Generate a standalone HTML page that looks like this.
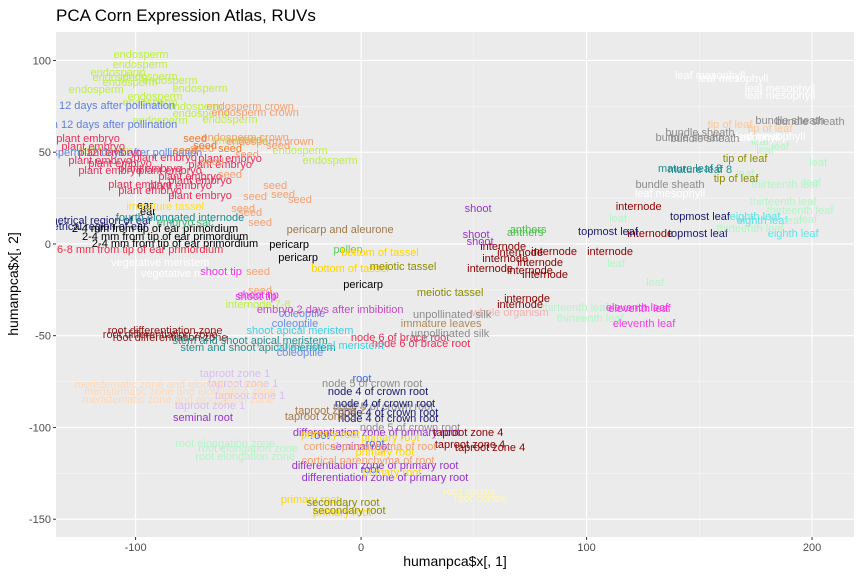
<!DOCTYPE html>
<html><head><meta charset="utf-8">
<style>
html,body{margin:0;padding:0;background:#fff;}
svg text{font-family:"Liberation Sans",sans-serif;}
</style></head>
<body>
<svg id="chart" width="862" height="575" viewBox="0 0 862 575" xmlns="http://www.w3.org/2000/svg">
<text x="56" y="21" font-size="17" fill="#000">PCA Corn Expression Atlas, RUVs</text>
<rect x="56" y="32" width="798" height="505" fill="#EBEBEB"/>
<g id="grid"></g>
<g id="labels"></g>
<g id="axes"></g>
<text x="455" y="566" font-size="14" text-anchor="middle" fill="#000">humanpca$x[, 1]</text>
<text transform="translate(18,284) rotate(-90)" font-size="14" text-anchor="middle" fill="#000">humanpca$x[, 2]</text>
</svg>
<script>
const xTicks = [-100, 0, 100, 200];
const yTicks = [-150, -100, -50, 0, 50, 100];
const tissueNames = ["endosperm","endosperm 12 days after pollination","endosperm crown","plant embryo","seed","seed","symmetrical region of ear","2-4 mm from tip of ear primordium","6-8 mm from tip of ear primordium","ear","pericarp and aleurone","pollen","pericarp","vegetative meristem","shoot tip","bottom of tassel","meiotic tassel","shoot","anthers","internode","topmost leaf","eighth leaf","leaf","thirteenth leaf","eleventh leaf","whole organism","leaf mesophyll","bundle sheath","tip of leaf","tip of leaf","mature leaf 8","root differentiation zone","stem and shoot apical meristem","coleoptile","node 6 of brace root","immature leaves","unpollinated silk","internode 7-8","shoot apical meristem","embryo 2 days after imbibition","taproot zone 1","meristematic zone and elongation zone","seminal root","root elongation zone","root","node 5 of crown root","node 4 of crown root","taproot zone 2","differentiation zone of primary root","taproot zone 4","primary root","secondary root","root cortex","cortical parenchyma of root","immature tassel","fourth elongated internode","embryo sac"];
const tissueColors = ["#BFEF45","#5F7FE0","#F4A070","#E6305A","#F4A070","#F07A28","#191970","#000000","#E8304A","#000000","#A0784A","#5DCC5D","#000000","#FFFFFF","#EE33EE","#FFD700","#8B8B00","#9932CC","#4DBF4D","#8B0000","#191970","#5AE6E6","#B4F5C8","#B4F5C8","#F03CE6","#F4B0B0","#FFFFFF","#8C8C8C","#F8C89A","#8B8B00","#1E8C8C","#8B1A1A","#2E8B8B","#6A8CE6","#E6305A","#B08850","#8C8C8C","#BFEF45","#40D0E0","#C04CC0","#D8BFF0","#FFD8B8","#9932CC","#B4F5C8","#4169E1","#8C8C8C","#191970","#A57848","#9932CC","#8B0000","#FFD700","#8B8B00","#FFF8B0","#F4A070","#FFE033","#1F8A8A","#3CB878"];
const tissueX = [
[-97.6,-98.0,-107.8,-93.6,-106.9,-84.7,-102.4,-117.5,-91.4,-93.6,-73.6,-89.1,-71.4,-13.7,-27.1,-53.7,-58.1,-71.4,-113.5],
[-121.1,-120.2,-109.1],
[-49.2,-47.0,-51.4,-40.4],
[-121.1,-118.8,-111.3,-115.7,-106.9,-111.3,-93.6,-84.7,-75.8,-98.0,-93.6,-80.3,-71.4,-62.5,-58.1,-71.4,-86.9],
[-49.2,-70.5,-36.8,-66.1,-50.6,-58.1,-38.1,-47.0,-27.1,-34.6,-52.3,-49.2,-44.8,-45.7,-44.8],
[-73.6,-69.2,-58.1,-78.0],
[-120.2,-122.4],
[-91.4,-86.9,-82.5],
[-98.0],
[-95.8,-94.5],
[-9.3],
[-5.8],
[-31.9,-27.9,0.9],
[-89.1,-75.8],
[-62.1,-46.6,-45.7],
[-4.9,8.4],
[18.6,39.5],
[51.9,51.0,52.8],
[74.1,72.8],
[63.0,70.5,63.9,79.4,57.2,74.9,81.6,110.4,123.1,128.2,73.6,70.5,85.6],
[109.5,150.3,149.4],
[174.7,191.6,177.8],
[114.0,113.1,130.4,176.9,179.2,185.8,170.3,202.7,200.0,191.6,198.3],
[187.1,194.7,172.5,94.9,101.6,188.0],
[122.4,125.5,123.5],
[66.1],
[154.8,165.0,185.8,185.8,170.3,181.4,137.0],
[145.9,152.5,190.2,199.1,150.3,137.0],
[163.6,181.4],
[170.3,166.3],
[145.9,150.3],
[-86.9,-89.1,-84.7],
[-49.2,-45.7],
[-26.2,-27.1,-29.3],
[26.6,17.3],
[35.5],
[40.4,39.5],
[-45.7],
[-27.1,-13.7],
[-13.7],
[-55.9,-49.2,-67.0,-52.3],
[-84.7,-80.3,-81.2],
[-70.1,-0.4],
[-60.3,-50.1,-51.4],
[0.4,-18.2,4.0,6.2],
[4.9,9.8,21.7],
[7.5,10.6,12.0,12.0],
[-13.7,-18.2],
[6.7,6.2,10.6],
[47.5,48.3,57.2],
[-13.7,12.9,-22.6,-8.4,13.7,10.6],
[-8.0,-5.3],
[47.9,52.8],
[3.1,4.0],
[-86.9],
[-80.3],
[-78.0]
];
const tissueY = [
[103.5,98.1,93.7,91.6,91.0,89.4,88.3,84.5,80.7,77.4,75.2,67.6,85.0,45.8,51.2,56.7,68.1,71.4,51.2],
[75.7,65.4,50.1],
[75.2,71.9,58.3,56.1],
[57.8,53.4,50.1,45.8,44.1,40.3,41.4,40.3,37.1,32.7,29.4,32.2,34.9,43.6,46.9,26.7,47.4],
[57.2,52.3,54.0,45.2,49.0,38.1,32.2,26.2,24.5,27.2,19.6,17.4,12.0,-14.7,-25.1],
[57.8,54.0,52.3,51.2],
[13.1,9.8],
[8.7,4.4,0.5],
[-2.7],
[21.3,18.0],
[8.2],
[-2.7],
[0.0,-7.1,-21.8],
[-9.8,-15.8],
[-14.7,-28.3,-27.5],
[-13.1,-4.4],
[-12.0,-26.2],
[19.6,5.4,1.6],
[8.2,6.5],
[-1.1,-4.4,-7.6,-9.8,-13.1,-14.2,-16.3,-3.8,20.7,6.0,-29.4,-32.7,-3.8],
[7.1,15.3,6.0],
[15.3,6.0,13.1],
[14.2,-10.4,-20.7,56.1,51.2,53.4,38.7,44.7,33.8,13.1,13.6],
[23.4,18.5,8.7,-34.3,-40.3,32.7],
[-34.3,-43.1,-34.9],
[-37.1],
[92.1,90.5,85.0,81.2,58.3,58.9,27.8],
[58.3,57.8,67.6,67.0,61.0,32.7],
[65.4,63.2],
[46.9,36.0],
[41.4,40.8],
[-46.9,-49.0,-50.7],
[-52.3,-56.1],
[-37.6,-58.9,-43.1],
[-54.0,-50.7],
[-43.1],
[-38.1,-48.5],
[-32.7],
[-46.9,-55.0],
[-35.4],
[-70.3,-82.3,-87.7,-75.7],
[-76.3,-80.1,-84.5],
[-94.3,-110.1],
[-108.4,-111.2,-115.5],
[-73.0,-104.1,-122.6,-108.5],
[-75.7,-88.3,-99.7],
[-80.1,-86.6,-91.6,-94.8],
[-90.5,-93.7],
[-102.5,-120.4,-127.0],
[-102.5,-109.0,-110.7],
[-103.5,-105.2,-139.0,-146.0,-124.3,-113.0],
[-140.6,-145.0],
[-134.6,-138.4],
[-117.7,-110.1],
[20.7],
[14.7],
[12.0]
];

const NS = "http://www.w3.org/2000/svg";
const L = 56, R = 854, T = 32, B = 537;
const xMin = -135.3, xMax = 218.6, yMin = -159.7, yMax = 115.5;
function sx(v){ return L + (v - xMin) / (xMax - xMin) * (R - L); }
function sy(v){ return B - (v - yMin) / (yMax - yMin) * (B - T); }
function mk(tag, attrs){ const e = document.createElementNS(NS, tag); for (const k in attrs) e.setAttribute(k, attrs[k]); return e; }

const grid = document.getElementById('grid');
const axes = document.getElementById('axes');
// minor grid
for (let i = 0; i < xTicks.length; i++) {
  const mv = xTicks[i] - 50;
  if (mv > xMin) { const ln = mk('line', {x1:sx(mv), x2:sx(mv), y1:T, y2:B, stroke:'#F7F7F7', 'stroke-width':0.6});
    
    
    grid.appendChild(ln); }
}
if (xTicks[xTicks.length-1] + 50 < xMax) { const v = xTicks[xTicks.length-1] + 50; const ln = mk('line', {x1:sx(v), x2:sx(v), y1:T, y2:B, stroke:'#F7F7F7', 'stroke-width':0.6}); grid.appendChild(ln); }
for (let i = 0; i < yTicks.length; i++) {
  const mv = yTicks[i] + 25;
  if (mv < yMax) { const ln = mk('line', {x1:L, x2:R, y1:sy(mv), y2:sy(mv), stroke:'#F7F7F7', 'stroke-width':0.6});
    
    
    grid.appendChild(ln); }
}
// major grid + ticks
xTicks.forEach(v => {
  const ln = mk('line', {x1:sx(v), x2:sx(v), y1:T, y2:B, stroke:'#FFFFFF', 'stroke-width':1.1});
  
  
  grid.appendChild(ln);
  const tk = mk('line', {x1:sx(v), x2:sx(v), y1:B, y2:B+3, stroke:'#333', 'stroke-width':1});
  axes.appendChild(tk);
  const t = mk('text', {x:sx(v), y:B+14, 'font-size':11, 'text-anchor':'middle', fill:'#4D4D4D'});
  
  
  t.textContent = v; axes.appendChild(t);
});
yTicks.forEach(v => {
  const ln = mk('line', {x1:L, x2:R, y1:sy(v), y2:sy(v), stroke:'#FFFFFF', 'stroke-width':1.1});
  
  
  grid.appendChild(ln);
  const tk = mk('line', {x1:L-3, x2:L, y1:sy(v), y2:sy(v), stroke:'#333', 'stroke-width':1});
  axes.appendChild(tk);
  const t = mk('text', {x:L-5, y:sy(v)+4, 'font-size':11, 'text-anchor':'end', fill:'#4D4D4D'});
  
  
  t.textContent = v; axes.appendChild(t);
});

// labels
const lg = document.getElementById('labels');
const clip = mk('clipPath', {id:'pc'}); clip.appendChild(mk('rect', {x:L, y:T, width:R-L, height:B-T}));
document.getElementById('chart').insertBefore(clip, document.getElementById('chart').firstChild);
lg.setAttribute('clip-path', 'url(#pc)');
for (let i = 0; i < tissueNames.length; i++) {
  const xs = tissueX[i], ys = tissueY[i];
  for (let j = 0; j < xs.length; j++) {
    const t = mk('text', {x:sx(xs[j]), y:sy(ys[j]) + 4, 'font-size':11, 'text-anchor':'middle', fill:tissueColors[i]});
    
    
    t.textContent = tissueNames[i];
    lg.appendChild(t);
  }
}
</script>
</body></html>
